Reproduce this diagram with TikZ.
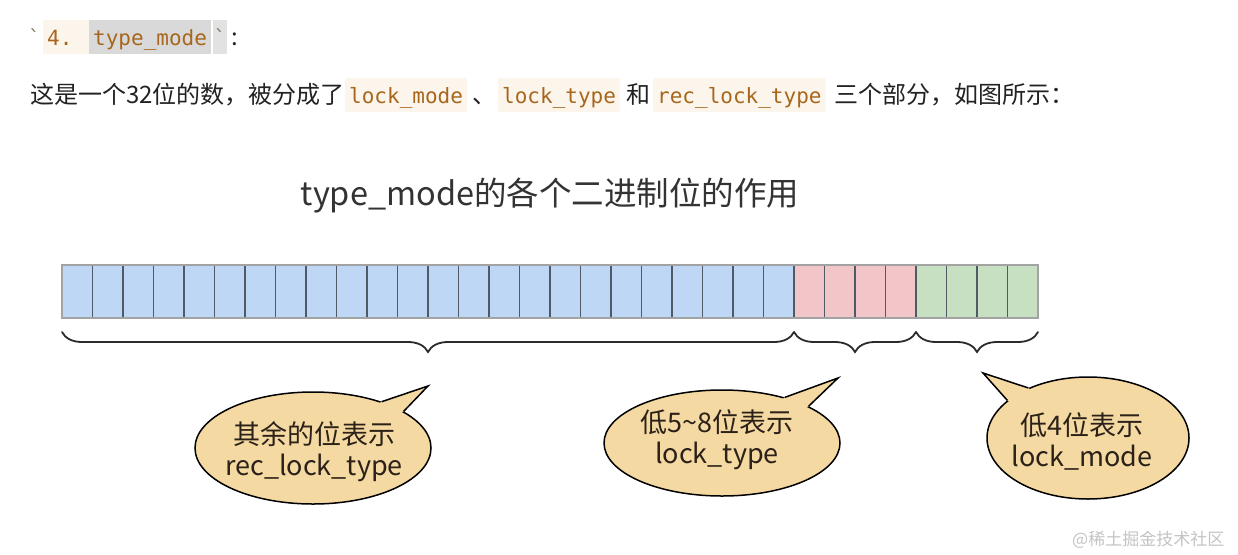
\documentclass[tikz,border=0pt]{standalone}
\usepackage{fontspec}
\setmainfont{Noto Sans CJK SC}
\newfontfamily\codefont{DejaVu Sans Mono}
\usetikzlibrary{shapes.geometric,decorations.pathreplacing,calc}

\definecolor{codefg}{HTML}{A8661C}
\definecolor{codebg}{HTML}{FBF5EC}
\definecolor{selbg}{HTML}{D9D9D9}
\definecolor{ticbg}{HTML}{E2E2E2}
\definecolor{txt}{HTML}{222222}
\definecolor{titlec}{HTML}{333333}
\definecolor{cblue}{HTML}{BDD7F5}
\definecolor{cred}{HTML}{F2C6C8}
\definecolor{cgreen}{HTML}{C8E0C2}
\definecolor{cellline}{HTML}{4F5A66}
\definecolor{outlinec}{HTML}{A3A3A3}
\definecolor{bubble}{HTML}{F5D9A2}
\definecolor{bracec}{HTML}{2B2B2B}
\definecolor{bubtxt}{HTML}{2B2118}
\definecolor{wm}{HTML}{C4C4C4}
\definecolor{ticc}{HTML}{8A7A6A}

\begin{document}
\begin{tikzpicture}[x=1pt,y=-1pt,
  body/.style={anchor=base west, inner sep=0pt, text=txt, font=\fontsize{24}{28}\selectfont},
  code/.style={anchor=base west, fill=codebg, rounded corners=2pt, text=codefg,
    font=\codefont\fontsize{21}{26}\selectfont, inner xsep=4pt, inner ysep=4pt,
    text height=21pt, text depth=5pt},
  sel/.style={code, fill=selbg, rounded corners=0pt},
  cell/.style={draw=cellline, line width=1.2pt, minimum width=30.5pt, minimum height=53pt,
    inner sep=0pt, outer sep=0pt},
  bracestyle/.style={draw=bracec, line width=1.8pt, line cap=round, decorate,
    decoration={brace, mirror, amplitude=20pt}},
  bubblestyle/.style={ellipse, draw=black, line width=1.5pt, fill=bubble, inner sep=0pt},
  bubtext/.style={align=center, text=bubtxt, font=\fontsize{27}{31}\selectfont, inner sep=0pt},
  tailline/.style={draw=black, line width=1.5pt, line join=miter},
]
\fill[white] (0,0) rectangle (1238,554);
\useasboundingbox (0,0) rectangle (1238,554);

% header line 1
\node[anchor=base west, inner sep=0pt, text=ticc, font=\codefont\fontsize{21}{26}\selectfont] (tic1) at (28,45) {`};
\node[code, rounded corners=0pt] (num) at (43,45) {\makebox[38pt][l]{4.}};
\node[sel] (tm) at (89,45) {type\_mode};
\node[code, fill=ticbg, rounded corners=0pt, inner xsep=0.5pt, text=ticc] (tic2) at (213,45) {`};
\node[body] (colon) at (231,45) {:};

% header line 2
\node[body] (l2a) at (30,103) {这是一个32位的数，被分成了};
\node[code] (lm) at (345,103) {lock\_mode};
\node[body] (dun) at (472,103) {、};
\node[code] (lt) at (498,103) {lock\_type};
\node[body] (he) at (626,103) {和};
\node[code] (rlt) at (653,103) {rec\_lock\_type};
\node[body] (rest) at (834,103) {三个部分，如图所示：};

% title
\node[anchor=base, inner sep=0pt, text=titlec, font=\fontsize{32.5}{38}\selectfont] (title) at (550,205) {type\_mode的各个二进制位的作用};

% bit cells
\foreach \i in {1,...,32}{
  \ifnum\i<25 \def\cc{cblue}\else\ifnum\i<29 \def\cc{cred}\else\def\cc{cgreen}\fi\fi
  \node[cell, fill=\cc] (c\i) at ({62+(\i-0.5)*30.5}, 291.5) {};
}
\draw[draw=outlinec, line width=1.2pt] (c1.north west) rectangle (c32.south east);

% braces
\draw[bracestyle] ([yshift=-14pt]c1.south west) -- ([yshift=-14pt]c24.south east);
\draw[bracestyle] ([yshift=-14pt]c25.south west) -- ([yshift=-14pt]c28.south east);
\draw[bracestyle] ([yshift=-14pt]c29.south west) -- ([yshift=-14pt]c32.south east);

% bubbles
\node[bubblestyle, minimum width=236pt, minimum height=112pt] (b1) at (313,448) {};
\coordinate (p1) at (428,386);
\fill[bubble] (b1.34) -- (p1) -- (b1.22) -- (b1.center) -- cycle;
\draw[tailline] (b1.34) -- (p1) -- (b1.22);

\node[bubblestyle, minimum width=236pt, minimum height=106pt] (b2) at (722,443) {};
\coordinate (p2) at (838,378);
\fill[bubble] (b2.36) -- (p2) -- (b2.23) -- (b2.center) -- cycle;
\draw[tailline] (b2.36) -- (p2) -- (b2.23);

\node[bubblestyle, minimum width=202pt, minimum height=122pt] (b3) at (1088,438) {};
\coordinate (p3) at (983,373);
\fill[bubble] (b3.155) -- (p3) -- (b3.140) -- (b3.center) -- cycle;
\draw[tailline] (b3.155) -- (p3) -- (b3.140);

\node[bubtext] (t1) at (314,452) {其余的位表示\\rec\_lock\_type};
\node[bubtext] (t2) at (717,440) {低5{\char"7E}8位表示\\lock\_type};
\node[bubtext] (t3) at (1082,441) {低4位表示\\lock\_mode};

% watermark
\node[anchor=base west, inner sep=0pt, text=wm, font=\fontsize{17}{20}\selectfont] (wmk) at (1072,545) {@稀土掘金技术社区};
\end{tikzpicture}
\end{document}
